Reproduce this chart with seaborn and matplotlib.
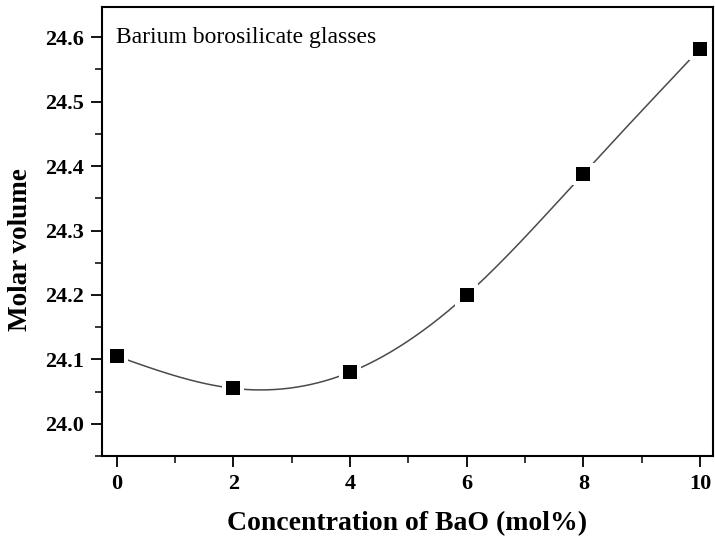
import numpy as np
import pandas as pd
import matplotlib
matplotlib.use("Agg")
import matplotlib.pyplot as plt
import seaborn as sns
from matplotlib.ticker import MultipleLocator, AutoMinorLocator

bao_conc = [0, 2, 4, 6, 8, 10]
molar_volume = [24.105, 24.055, 24.080, 24.200, 24.388, 24.582]
x_label = "Concentration of BaO (mol%)"
y_label = "Molar volume"
annotation = "Barium borosilicate glasses"

sns.set_style("ticks")
plt.rcParams["font.family"] = ["Liberation Serif", "DejaVu Serif"]
plt.rcParams["mathtext.fontset"] = "stix"
plt.rcParams["text.color"] = "black"
plt.rcParams["axes.labelcolor"] = "black"

df = pd.DataFrame({"x": bao_conc, "y": molar_volume})


def natural_spline(x, y, n=400):
    x = np.asarray(x, float)
    y = np.asarray(y, float)
    k = len(x)
    h = np.diff(x)
    A = np.zeros((k, k))
    b = np.zeros(k)
    A[0, 0] = 1
    A[-1, -1] = 1
    for i in range(1, k - 1):
        A[i, i - 1] = h[i - 1]
        A[i, i] = 2 * (h[i - 1] + h[i])
        A[i, i + 1] = h[i]
        b[i] = 3 * ((y[i + 1] - y[i]) / h[i] - (y[i] - y[i - 1]) / h[i - 1])
    c = np.linalg.solve(A, b)
    xs = np.linspace(x[0], x[-1], n)
    ys = np.empty_like(xs)
    for j, xv in enumerate(xs):
        i = min(np.searchsorted(x, xv, side="right") - 1, k - 2)
        bb = (y[i + 1] - y[i]) / h[i] - h[i] * (2 * c[i] + c[i + 1]) / 3
        dd = (c[i + 1] - c[i]) / (3 * h[i])
        t = xv - x[i]
        ys[j] = y[i] + bb * t + c[i] * t ** 2 + dd * t ** 3
    return xs, ys


fig = plt.figure(figsize=(7.15, 5.44), dpi=100)
ax = fig.add_axes([0.1427, 0.1618, 0.8543, 0.8254])

xs, ys = natural_spline(bao_conc, molar_volume)
sns.lineplot(x=xs, y=ys, ax=ax, color="#4a4a4a", linewidth=1.1, zorder=1)
sns.scatterplot(data=df, x="x", y="y", ax=ax, marker="s", s=260, color="white",
                edgecolor="none", zorder=2)
sns.scatterplot(data=df, x="x", y="y", ax=ax, marker="s", s=100, color="black",
                edgecolor="none", zorder=3)

ax.set_xlim(-0.25, 10.22)
ax.set_ylim(23.95, 24.647)
ax.xaxis.set_major_locator(MultipleLocator(2))
ax.xaxis.set_minor_locator(AutoMinorLocator(2))
ax.set_yticks(np.round(np.arange(24.0, 24.61, 0.1), 1))
ax.yaxis.set_minor_locator(AutoMinorLocator(2))
ax.yaxis.set_major_formatter(matplotlib.ticker.FormatStrFormatter("%.1f"))

for sp in ax.spines.values():
    sp.set_visible(True)
    sp.set_linewidth(1.5)
    sp.set_color("black")

ax.tick_params(which="major", direction="out", length=8, width=1.3, colors="black",
               labelsize=16, pad=5)
ax.tick_params(which="minor", direction="out", length=5, width=1.1, colors="black")
ax.tick_params(top=False, right=False, which="both")
for lab in ax.get_xticklabels() + ax.get_yticklabels():
    lab.set_fontweight("bold")

ax.set_xlabel(x_label, fontsize=20, fontweight="bold", color="black")
ax.set_ylabel(y_label, fontsize=19.5, fontweight="bold", color="black")
ax.xaxis.set_label_coords(0.5, -0.122)
ax.yaxis.set_label_coords(-0.113, 0.46)

ax.text(0.023, 0.955, annotation, transform=ax.transAxes, fontsize=17,
        ha="left", va="top", color="black")

fig.savefig("out.png", dpi=100)
